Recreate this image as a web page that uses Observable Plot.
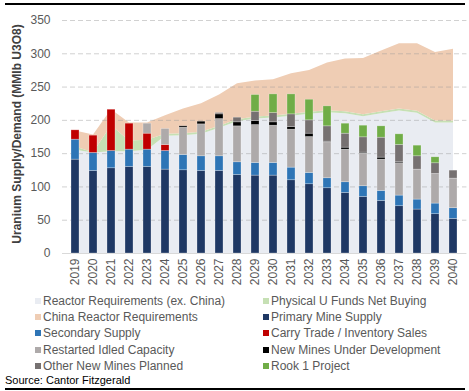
<!DOCTYPE html>
<html><head><meta charset="utf-8">
<script src="https://cdn.jsdelivr.net/npm/d3@7"></script>
<script src="https://cdn.jsdelivr.net/npm/@observablehq/plot@0.6"></script>
<style>
body{margin:0;background:#fff;font-family:"Liberation Sans",Arial,sans-serif;}
#wrap{position:relative;width:469px;height:391px;overflow:hidden;background:#fff;}
#wrap svg{position:absolute;left:0;top:0;}
.hline{position:absolute;left:5px;width:460px;background:#000;}
.leg{position:absolute;font-size:12px;color:#595959;white-space:nowrap;line-height:14px;}
.leg i{display:inline-block;width:6px;height:6px;margin-right:2px;vertical-align:1px;}
#src{position:absolute;left:5px;top:374px;font-size:11px;color:#000;}
</style></head><body><div id="wrap"></div>
<script>
const years = ["2019","2020","2021","2022","2023","2024","2025","2026","2027","2028","2029","2030","2031","2032","2033","2034","2035","2036","2037","2038","2039","2040"];

// demand areas (stacked)
const reactorExChina = [155,151,153,153,155,176,177,179,188,198,202,203.5,206,209,211.5,210,205.5,210,214,210.5,196,196];
const physicalFunds  = [5,0.5,39,16,15,3,3,3,3,3,3,3,3,3,3,3,3,3,3,3,3,3];
const totalDemand    = [184,178,216,196,196,207,217,225,238,255,259,261,270,275,286,292,293,304,315,315,302,307];
const chinaReactor   = totalDemand.map((t,i)=>t-reactorExChina[i]-physicalFunds[i]);

// supply bars (stacked)
const primaryMine  = [141,124,128,130,130,126,125,124,124,118,117,117,110,104,98,91,85,79,71,66,59,52];
const secondary    = [30,27,26,26,26,28,23,22,22,19,19,19,19,17,15,16,16,15,16,15,16,16];
const carryTrade   = [14,26,62,39,24,9,0,0,0,0,0,0,0,0,0,0,0,0,0,0,0,0];
const restarted    = [0,0,0,0,15,24,41,48,56,54,57,56,57,54,54,49,49,47,48.5,45,44.5,44.5];
const newMinesDev  = [0,0,0,0,0,0,2,4,7,6,6,5,4,5,1,3,1.5,3,1.5,0,0,0];
const otherNew     = [0,0,0,0,0,0,0,0,2,7,14,14,19,20,23,21,23,30,26,20,16,12];
const rook1        = [0,0,0,0,0,0,0,0,0,0,25,28,30,31,30,15,17.5,17,16,16,9,0];

const yTicks = [0,50,100,150,200,250,300,350];

const areaSeries = ["Reactor Requirements (ex. China)","Physical U Funds Net Buying","China Reactor Requirements"];
const areaValues = [reactorExChina, physicalFunds, chinaReactor];
const barSeries = ["Primary Mine Supply","Secondary Supply","Carry Trade / Inventory Sales","Restarted Idled Capacity","New Mines Under Development","Other New Mines Planned","Rook 1 Project"];
const barValues = [primaryMine, secondary, carryTrade, restarted, newMinesDev, otherNew, rook1];

const legendOrder = ["Reactor Requirements (ex. China)","Physical U Funds Net Buying","China Reactor Requirements","Primary Mine Supply","Secondary Supply","Carry Trade / Inventory Sales","Restarted Idled Capacity","New Mines Under Development","Other New Mines Planned","Rook 1 Project"];
const legendColors = ["#E9ECF2","#C6E0B4","#EFCDB4","#1F3864","#2E75B6","#C00000","#AEAAAA","#000000","#767171","#70AD47"];

const areaData = [];
areaSeries.forEach((s,k)=>years.forEach((y,i)=>areaData.push({year:y, series:s, value:areaValues[k][i]})));
const barData = [];
barSeries.forEach((s,k)=>years.forEach((y,i)=>{ if(barValues[k][i]>0) barData.push({year:y, series:s, value:barValues[k][i]}); }));

const chart = Plot.plot({
  width:469, height:292,
  marginLeft:62, marginRight:2.6, marginTop:20, marginBottom:39,
  style:{fontFamily:"Liberation Sans, Arial, sans-serif", fontSize:"12px", color:"#595959", background:"transparent", overflow:"visible"},
  x:{type:"band", domain:years, paddingInner:0.55, paddingOuter:0.247, label:null, tickSize:0, tickPadding:5, tickRotate:-90},
  y:{domain:[0,350], ticks:yTicks, tickSize:0, tickPadding:12, label:null},
  color:{domain:legendOrder, range:legendColors},
  marks:[
    Plot.areaY(areaData, {x:"year", y:"value", fill:"series", order:areaSeries}),
    Plot.ruleY(yTicks.filter(d=>d>0), {stroke:"#9a9a9a", strokeOpacity:0.45, strokeDasharray:"5,3"}),
    Plot.ruleY([0], {stroke:"#d9d9d9"}),
    Plot.barY(barData, {x:"year", y:"value", fill:"series", order:barSeries, stroke:"#ffffff", strokeOpacity:0.45, strokeWidth:0.6})
  ]
});

const wrap = document.getElementById("wrap");
wrap.appendChild(chart);
d3.select(chart).append("text")
  .attr("transform","translate(18,134) rotate(-90)")
  .attr("text-anchor","middle").attr("dominant-baseline","middle")
  .attr("fill","#404040").attr("font-weight","bold").attr("font-size","12px")
  .text("Uranium Supply/Demand (MMlb U3O8)");

// top and bottom rules
const t = document.createElement("div"); t.className="hline"; t.style.top="3px"; t.style.height="2px"; wrap.appendChild(t);
const b = document.createElement("div"); b.className="hline"; b.style.top="388px"; b.style.height="1.5px"; wrap.appendChild(b);

// legend
legendOrder.forEach((s,i)=>{
  const col = i%2, row = Math.floor(i/2);
  const d = document.createElement("div");
  d.className="leg";
  d.style.left = (col===0? 35 : 263)+"px";
  d.style.top = (294 + row*16.2)+"px";
  d.innerHTML = `<i style="background:${legendColors[i]}"></i>${s}`;
  wrap.appendChild(d);
});
const src = document.createElement("div"); src.id="src"; src.textContent="Source: Cantor Fitzgerald"; wrap.appendChild(src);
</script>
</body></html>
